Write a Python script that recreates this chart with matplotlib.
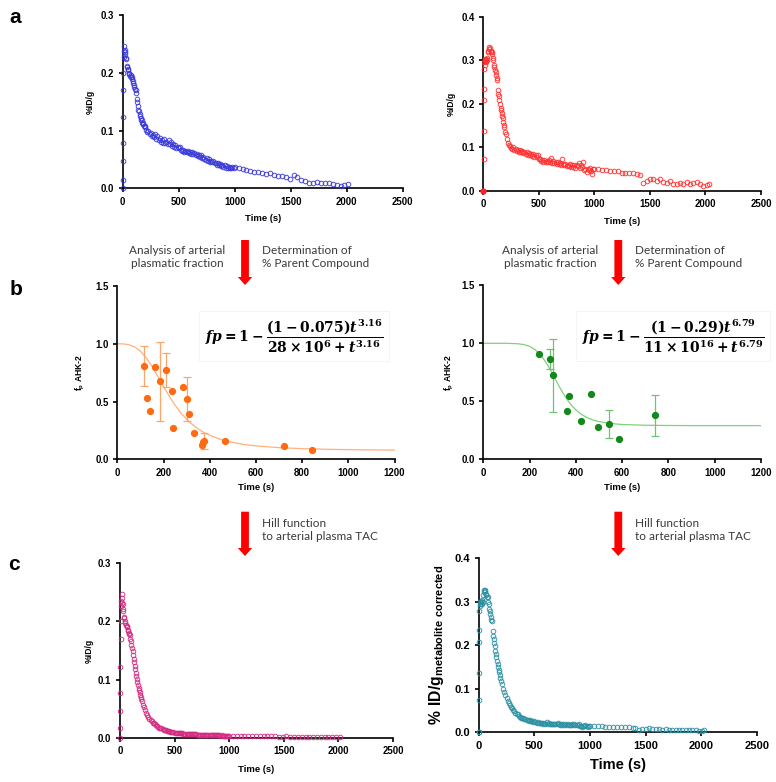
import matplotlib
matplotlib.use('Agg')
import matplotlib.pyplot as plt
from matplotlib.patches import Polygon
from matplotlib.ticker import FormatStrFormatter

plt.rcParams.update({
    'font.family': ['Liberation Sans', 'DejaVu Sans'],
    'mathtext.fontset': 'custom',
    'mathtext.rm': 'DejaVu Serif:bold',
    'mathtext.it': 'DejaVu Serif:italic:bold',
    'mathtext.bf': 'DejaVu Serif:bold',
    'mathtext.sf': 'Liberation Sans:bold',
})

# ---------------- data ----------------
# shared early frame times (s)
T_EARLY = [0, 1, 2, 3, 4, 5, 6,
           9, 12, 15, 18, 21, 24, 27, 30,
           35, 40, 45, 50, 55, 60, 65, 70, 75, 80,
           85, 90, 95, 100, 105, 110, 115, 120, 125, 130,
           135, 140, 145, 150, 155, 160, 165, 170, 175, 180,
           185, 190, 195, 200,
           210, 220, 230, 240, 250, 260, 270, 280, 290, 300,
           310, 320, 330, 340, 350, 360, 370, 380, 390, 400,
           410, 420, 430, 440, 450, 460, 470, 480, 490, 500,
           510, 520, 530, 540, 550, 560, 570, 580, 590, 600,
           610, 620, 630, 640, 650, 660, 670, 680, 690, 700,
           710, 720, 730, 740, 750, 760, 770, 780, 790, 800,
           810, 820, 830, 840, 850, 860, 870, 880, 890, 900,
           910, 920, 930, 940, 950, 960, 970, 980, 990, 1000]
T1_LATE = [1035, 1070, 1105, 1140, 1175, 1210, 1245, 1280, 1315, 1350,
           1385, 1420, 1455, 1490, 1525, 1560, 1595, 1630, 1665, 1700,
           1735, 1770, 1805, 1840, 1875, 1910, 1945, 1980, 2015]
T2_LATE = [1035, 1070, 1105, 1140, 1175, 1210, 1245, 1280, 1315, 1350,
           1385, 1410, 1440, 1470, 1500, 1530, 1560, 1590, 1620, 1650,
           1680, 1710, 1740, 1770, 1800, 1830, 1860, 1890, 1920, 1950,
           1980, 2010, 2030]
T1 = T_EARLY + T1_LATE
T2 = T_EARLY + T2_LATE

# panel a, left (%ID/g, animal 1)
A1 = [0.000, 0.015, 0.047, 0.079, 0.123, 0.171, 0.200,
      0.228, 0.238, 0.246, 0.240, 0.232, 0.236, 0.224, 0.226,
      0.210, 0.212, 0.205, 0.207, 0.198, 0.200, 0.195, 0.196, 0.193, 0.190,
      0.192, 0.186, 0.183, 0.178, 0.176, 0.172, 0.170, 0.165, 0.155, 0.150,
      0.142, 0.136, 0.134, 0.128, 0.125, 0.122, 0.118, 0.119, 0.113, 0.111,
      0.113, 0.108, 0.106, 0.107,
      0.101, 0.098, 0.100, 0.094, 0.096, 0.091, 0.093, 0.088, 0.094, 0.086,
      0.090, 0.084, 0.087, 0.080, 0.083, 0.078, 0.085, 0.079, 0.081, 0.076,
      0.083, 0.077, 0.080, 0.074, 0.077, 0.072, 0.075, 0.070, 0.072, 0.069,
      0.071, 0.067, 0.065, 0.066, 0.063, 0.065, 0.062, 0.064, 0.061, 0.063,
      0.060, 0.062, 0.059, 0.061, 0.057, 0.059, 0.056, 0.058, 0.055, 0.057,
      0.053, 0.055, 0.051, 0.049, 0.052, 0.047, 0.050, 0.046, 0.048, 0.045,
      0.047, 0.043, 0.044, 0.041, 0.043, 0.040, 0.042, 0.039, 0.041, 0.037,
      0.040, 0.036, 0.038, 0.035, 0.037, 0.036, 0.035, 0.037, 0.036, 0.037,
      0.035, 0.034, 0.031, 0.030, 0.029, 0.028, 0.027, 0.024, 0.026, 0.023,
      0.022, 0.021, 0.019, 0.016, 0.023, 0.019, 0.015, 0.012, 0.010, 0.009,
      0.011, 0.010, 0.0095, 0.0098, 0.008, 0.0055, 0.0048, 0.0052, 0.0075]

# panel a, right (%ID/g, animal 2)
A2 = [0.000, 0.000, 0.074, 0.137, 0.208, 0.234, 0.280,
      0.295, 0.300, 0.288, 0.302, 0.296, 0.303, 0.298, 0.305,
      0.300, 0.318, 0.322, 0.330, 0.325, 0.328, 0.318, 0.322, 0.315, 0.318,
      0.305, 0.300, 0.290, 0.285, 0.278, 0.272, 0.265, 0.258, 0.255, 0.232,
      0.222, 0.218, 0.208, 0.200, 0.190, 0.186, 0.178, 0.172, 0.168, 0.158,
      0.152, 0.146, 0.136, 0.130,
      0.118, 0.110, 0.105, 0.102, 0.098, 0.097, 0.100, 0.094, 0.096, 0.092,
      0.094, 0.090, 0.093, 0.088, 0.091, 0.086, 0.090, 0.084, 0.088, 0.083,
      0.087, 0.081, 0.085, 0.079, 0.084, 0.077, 0.082, 0.078, 0.081, 0.074,
      0.072, 0.068, 0.071, 0.067, 0.070, 0.066, 0.069, 0.065, 0.071, 0.066,
      0.075, 0.064, 0.068, 0.063, 0.066, 0.062, 0.065, 0.061, 0.064, 0.060,
      0.072, 0.062, 0.058, 0.061, 0.057, 0.060, 0.056, 0.062, 0.055, 0.059,
      0.054, 0.058, 0.053, 0.060, 0.056, 0.063, 0.052, 0.058, 0.054, 0.066,
      0.047, 0.051, 0.044, 0.050, 0.048, 0.052, 0.046, 0.038, 0.049, 0.050,
      0.050, 0.048, 0.047, 0.046, 0.046, 0.045, 0.041, 0.040, 0.041, 0.040,
      0.039, 0.036, 0.017, 0.022, 0.026, 0.028, 0.023, 0.027, 0.021, 0.018,
      0.022, 0.015, 0.016, 0.018, 0.015, 0.019, 0.015, 0.018, 0.019, 0.016,
      0.010, 0.012, 0.015]

# panel c, left (metabolite corrected, animal 1)
C1 = [0.000, 0.017, 0.046, 0.077, 0.122, 0.170, 0.200,
      0.226, 0.236, 0.247, 0.240, 0.232, 0.230, 0.222, 0.218,
      0.208, 0.206, 0.200, 0.198, 0.194, 0.193, 0.190, 0.186, 0.184, 0.180,
      0.178, 0.176, 0.170, 0.166, 0.160, 0.155, 0.150, 0.143, 0.136, 0.130,
      0.124, 0.118, 0.112, 0.106, 0.101, 0.096, 0.090, 0.086, 0.082, 0.078,
      0.074, 0.070, 0.066, 0.063,
      0.057, 0.052, 0.047, 0.043, 0.039, 0.036, 0.033, 0.031, 0.029, 0.026,
      0.025, 0.023, 0.021, 0.020, 0.019, 0.017, 0.016, 0.016, 0.015, 0.014,
      0.013, 0.013, 0.012, 0.011, 0.011, 0.010, 0.010, 0.0095, 0.009, 0.0088,
      0.0085, 0.0083, 0.0080, 0.0078, 0.0076, 0.0075, 0.0073, 0.0072, 0.0070, 0.0069,
      0.0068, 0.0066, 0.0065, 0.0064, 0.0062, 0.0061, 0.0060, 0.0059, 0.0058, 0.0057,
      0.0055, 0.0055, 0.0053, 0.0051, 0.0052, 0.0049, 0.0050, 0.0048, 0.0049, 0.0046,
      0.0047, 0.0044, 0.0045, 0.0042, 0.0043, 0.0041, 0.0042, 0.0040, 0.0041, 0.0038,
      0.0040, 0.0037, 0.0038, 0.0036, 0.0037, 0.0036, 0.0035, 0.0036, 0.0035, 0.0036,
      0.0034, 0.0033, 0.0030, 0.0029, 0.0028, 0.0027, 0.0026, 0.0024, 0.0025, 0.0023,
      0.0022, 0.0021, 0.0020, 0.0017, 0.0022, 0.0019, 0.0016, 0.0013, 0.0011, 0.0010,
      0.0012, 0.0011, 0.0010, 0.0010, 0.0009, 0.0006, 0.0005, 0.0006, 0.0008]

# panel c, right (metabolite corrected, animal 2)
C2 = [0.000, 0.000, 0.074, 0.137, 0.207, 0.235, 0.280,
      0.296, 0.300, 0.290, 0.302, 0.295, 0.300, 0.296, 0.305,
      0.300, 0.315, 0.322, 0.328, 0.325, 0.326, 0.316, 0.318, 0.312, 0.312,
      0.300, 0.296, 0.284, 0.278, 0.272, 0.266, 0.258, 0.255, 0.232, 0.222,
      0.215, 0.205, 0.198, 0.188, 0.180, 0.172, 0.164, 0.158, 0.150, 0.143,
      0.138, 0.131, 0.124, 0.118,
      0.110, 0.100, 0.092, 0.085, 0.078, 0.073, 0.068, 0.062, 0.058, 0.055,
      0.051, 0.048, 0.045, 0.042, 0.041, 0.038, 0.036, 0.034, 0.033, 0.032,
      0.031, 0.030, 0.028, 0.029, 0.027, 0.028, 0.026, 0.027, 0.024, 0.026,
      0.023, 0.022, 0.023, 0.021, 0.022, 0.021, 0.022, 0.020, 0.022, 0.020,
      0.023, 0.020, 0.021, 0.019, 0.020, 0.019, 0.020, 0.019, 0.020, 0.018,
      0.021, 0.019, 0.017, 0.018, 0.017, 0.018, 0.017, 0.018, 0.016, 0.018,
      0.016, 0.017, 0.016, 0.018, 0.017, 0.019, 0.016, 0.017, 0.016, 0.020,
      0.014, 0.015, 0.013, 0.015, 0.014, 0.016, 0.014, 0.012, 0.015, 0.015,
      0.014, 0.014, 0.0135, 0.013, 0.013, 0.0125, 0.012, 0.012, 0.0115, 0.0115,
      0.011, 0.011, 0.006, 0.007, 0.0085, 0.009, 0.0075, 0.0085, 0.007, 0.006,
      0.007, 0.005, 0.005, 0.006, 0.005, 0.006, 0.005, 0.006, 0.006, 0.005,
      0.003, 0.004, 0.0045]

# panel b, left: parent fraction samples
FP1_T = [117, 130, 142, 165, 183, 212, 235, 242, 284, 301, 310, 330, 365, 371, 377, 467, 723, 845]
FP1_V = [0.807, 0.534, 0.420, 0.800, 0.675, 0.776, 0.590, 0.270, 0.627, 0.520,
         0.394, 0.230, 0.124, 0.147, 0.160, 0.158, 0.118, 0.083]
ERR1_T = [117, 183, 212, 301, 377]
ERR1_LO = [0.635, 0.333, 0.630, 0.330, 0.092]
ERR1_HI = [0.980, 1.014, 0.920, 0.710, 0.224]
FIT1_T = [0, 25, 50, 75, 100, 125, 150, 175, 200, 225, 250, 275, 300, 325, 350,
          375, 400, 450, 500, 550, 600, 700, 800, 900, 1000, 1100, 1200]
FIT1_V = [1.000, 0.999, 0.992, 0.973, 0.936, 0.879, 0.805, 0.719, 0.630, 0.545, 0.469,
          0.402, 0.347, 0.301, 0.263, 0.232, 0.208, 0.170, 0.146, 0.128, 0.116,
          0.101, 0.092, 0.087, 0.0835, 0.0813, 0.0798]

# panel b, right
FP2_T = [241, 287, 301, 362, 372, 422, 465, 496, 542, 587, 742]
FP2_V = [0.905, 0.868, 0.724, 0.420, 0.549, 0.330, 0.563, 0.276, 0.307, 0.175, 0.379]
ERR2_T = [287, 301, 542, 742]
ERR2_LO = [0.776, 0.411, 0.181, 0.201]
ERR2_HI = [0.948, 1.034, 0.428, 0.557]
FIT2_T = [0, 50, 100, 150, 175, 200, 225, 250, 275, 300, 325, 350, 375, 400, 425,
          450, 475, 500, 550, 600, 700, 800, 900, 1000, 1100, 1200]
FIT2_V = [1.000, 1.000, 1.000, 0.996, 0.989, 0.974, 0.944, 0.894, 0.823, 0.734, 0.639,
          0.552, 0.480, 0.426, 0.386, 0.358, 0.338, 0.325, 0.309, 0.300, 0.2935,
          0.2915, 0.2905, 0.2905, 0.2905, 0.2905]

EQ1 = r'$fp = 1 - \dfrac{(1 - 0.075)t^{3.16}}{28\times 10^{6} + t^{3.16}}$'
EQ2 = r'$fp = 1 - \dfrac{(1 - 0.29)t^{6.79}}{11\times 10^{16} + t^{6.79}}$'

# ---------------- figure ----------------
W, H = 776, 782
fig = plt.figure(figsize=(W / 100, H / 100), dpi=100)


def axes_px(l, t, r, b):
    return fig.add_axes([l / W, 1 - b / H, (r - l) / W, (b - t) / H])


def style(ax, xmax, xticks, ymax, yticks, fs=6.9, lw=1.2, pad=3.2):
    for s in ('top', 'right'):
        ax.spines[s].set_visible(False)
    for s in ('left', 'bottom'):
        ax.spines[s].set_linewidth(lw)
    ax.set_xlim(0, xmax)
    ax.set_ylim(0, ymax)
    ax.set_xticks(xticks)
    ax.set_yticks(yticks)
    ax.yaxis.set_major_formatter(FormatStrFormatter('%.1f'))
    ax.tick_params(direction='out', length=3, width=lw, pad=pad, labelsize=fs)
    for lab in ax.get_xticklabels() + ax.get_yticklabels():
        lab.set_fontweight('bold')
    ax.patch.set_alpha(0)


def open_pts(ax, t, v, color):
    ax.plot(t, v, 'o', ls='none', mfc='none', mec=color, mew=0.7, ms=3.3,
            clip_on=False, zorder=3, alpha=0.9)


X_TIME = [0, 500, 1000, 1500, 2000, 2500]
X_FP = [0, 200, 400, 600, 800, 1000, 1200]

# a left
ax = axes_px(122.7, 15, 402.7, 188.3)
style(ax, 2500, X_TIME, 0.3, [0, 0.1, 0.2, 0.3])
open_pts(ax, T1, A1, '#3838d8')
ax.set_xlabel('Time (s)', fontsize=6.8, fontweight='bold')
ax.xaxis.set_label_coords(0.5, -0.15)
ax.set_ylabel('%ID/g', fontsize=6.2, fontweight='bold')
ax.yaxis.set_label_coords(-0.099, 0.5)

# a right
ax = axes_px(483.3, 16.7, 761, 190.7)
style(ax, 2500, X_TIME, 0.4, [0, 0.1, 0.2, 0.3, 0.4])
open_pts(ax, T2, A2, '#ff3030')
ax.plot([0], [0], 'o', color='#ff2020', ms=3.3, clip_on=False, zorder=4)
ax.set_xlabel('Time (s)', fontsize=6.8, fontweight='bold')
ax.xaxis.set_label_coords(0.5, -0.15)
ax.set_ylabel('%ID/g', fontsize=6.2, fontweight='bold')
ax.yaxis.set_label_coords(-0.098, 0.5)

# b left
ax = axes_px(117.3, 286, 394.5, 459.3)
style(ax, 1200, X_FP, 1.5, [0, 0.5, 1.0, 1.5])
ax.plot(FIT1_T, FIT1_V, color='#ffb07c', lw=0.9, zorder=2)
ax.vlines(ERR1_T, ERR1_LO, ERR1_HI, color='#ffa46a', lw=0.9, zorder=2)
ax.plot(ERR1_T, ERR1_LO, '_', color='#ffa46a', ms=5.5, mew=0.9, zorder=2)
ax.plot(ERR1_T, ERR1_HI, '_', color='#ffa46a', ms=5.5, mew=0.9, zorder=2)
ax.plot(FP1_T, FP1_V, 'o', ls='none', color='#ff6a10', ms=4.2, zorder=3, clip_on=False)
ax.set_xlabel('Time (s)', fontsize=6.8, fontweight='bold')
ax.xaxis.set_label_coords(0.5, -0.135)
ax.set_ylabel(r'$\mathsf{f_p}$ AHK-2', fontsize=6.2, fontweight='bold')
ax.yaxis.set_label_coords(-0.109, 0.5)

# b right
ax = axes_px(483.3, 285.3, 761, 459.3)
style(ax, 1200, X_FP, 1.5, [0, 0.5, 1.0, 1.5])
ax.plot(FIT2_T, FIT2_V, color='#7fd07f', lw=0.9, zorder=2)
ax.vlines(ERR2_T, ERR2_LO, ERR2_HI, color='#70c470', lw=0.9, zorder=2)
ax.plot(ERR2_T, ERR2_LO, '_', color='#70c470', ms=5.5, mew=0.9, zorder=2)
ax.plot(ERR2_T, ERR2_HI, '_', color='#70c470', ms=5.5, mew=0.9, zorder=2)
ax.plot(FP2_T, FP2_V, 'o', ls='none', color='#12891a', ms=4.2, zorder=3, clip_on=False)
ax.set_xlabel('Time (s)', fontsize=6.8, fontweight='bold')
ax.xaxis.set_label_coords(0.5, -0.135)
ax.set_ylabel(r'$\mathsf{f_p}$ AHK-2', fontsize=6.2, fontweight='bold')
ax.yaxis.set_label_coords(-0.098, 0.5)

# c left
ax = axes_px(120, 563.3, 392.9, 737.7)
style(ax, 2500, X_TIME, 0.3, [0, 0.1, 0.2, 0.3])
open_pts(ax, T1, C1, '#d42a80')
ax.set_xlabel('Time (s)', fontsize=6.8, fontweight='bold')
ax.xaxis.set_label_coords(0.5, -0.155)
ax.set_ylabel('%ID/g', fontsize=6.2, fontweight='bold')
ax.yaxis.set_label_coords(-0.095, 0.5)

# c right
ax = axes_px(478.7, 558.3, 756.7, 732.3)
style(ax, 2500, X_TIME, 0.4, [0, 0.1, 0.2, 0.3, 0.4], fs=8, pad=3.5)
open_pts(ax, T2, C2, '#2a8fa2')
ax.set_xlabel('Time (s)', fontsize=10.5, fontweight='bold')
ax.xaxis.set_label_coords(0.5, -0.15)
ax.set_ylabel(r'$\mathsf{\%\ ID/g}_{\mathsf{metabolite\ corrected}}$', fontsize=11.3)
ax.yaxis.set_label_coords(-0.118, 0.5)

# equations
fig.text(294 / W, 1 - 336 / H, EQ1, fontsize=10, ha='center', va='center',
         bbox=dict(boxstyle='square,pad=0.45', fc='white', ec='#f2f2f2', lw=0.6))
fig.text(673 / W, 1 - 336 / H, EQ2, fontsize=10, ha='center', va='center',
         bbox=dict(boxstyle='square,pad=0.45', fc='white', ec='#f2f2f2', lw=0.6))


# arrows and captions
def down_arrow(xc, y0, y1, hs=3.9, hh=7.2, hl=8):
    pts = [(xc - hs, y0), (xc + hs, y0), (xc + hs, y1 - hl), (xc + hh, y1 - hl),
           (xc, y1), (xc - hh, y1 - hl), (xc - hs, y1 - hl)]
    pts = [(x / W, 1 - y / H) for x, y in pts]
    fig.patches.append(Polygon(pts, closed=True, fc='#ff0000', ec='none',
                               transform=fig.transFigure, figure=fig))


TXT = dict(fontsize=8.5, family=['Lato', 'DejaVu Sans'], color='#3a3a3a',
           va='center', linespacing=1.25)
for xc, xl, xr in ((245, 177, 261.7), (618.3, 550, 635)):
    down_arrow(xc, 240, 285)
    fig.text(xl / W, 1 - 257 / H, 'Analysis of arterial\nplasmatic fraction',
             ha='center', multialignment='center', **TXT)
    fig.text(xr / W, 1 - 257 / H, 'Determination of\n% Parent Compound',
             ha='left', multialignment='left', **TXT)
    down_arrow(xc, 511.7, 556)
    fig.text(xr / W, 1 - 530 / H, 'Hill function\nto arterial plasma TAC',
             ha='left', multialignment='left', **TXT)

# panel letters
for lab, x, y in (('a', 9, 23), ('b', 10, 295), ('c', 8, 570)):
    fig.text(x / W, 1 - y / H, lab, fontsize=15, fontweight='bold', va='baseline')

fig.savefig('out.png', dpi=100)
